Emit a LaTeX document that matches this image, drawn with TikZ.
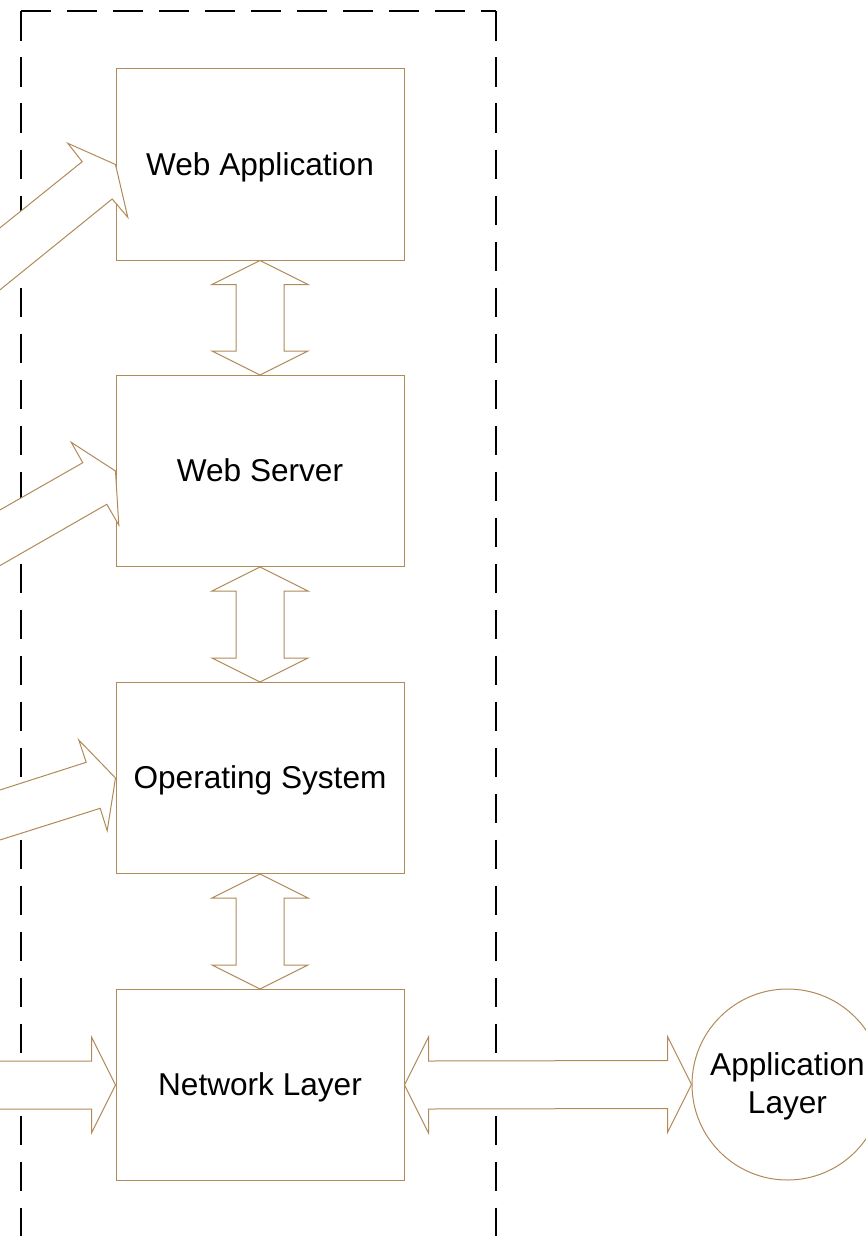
\documentclass[tikz,border=0pt]{standalone}
\usepackage{fontspec}
\setmainfont{Liberation Sans}
\usetikzlibrary{calc}
\definecolor{edge}{RGB}{176,138,88}
\tikzset{
  layerbox/.style={draw=edge, line width=0.5pt, rectangle, minimum width=144pt,
    minimum height=95.5pt, inner sep=0pt, text height=12pt, text depth=1.5pt,
    font=\fontsize{15.8}{19}\selectfont},
  peerlayer/.style={draw=edge, line width=0.5pt, circle, minimum size=95.5pt,
    inner sep=0pt, align=center, text height=30pt, text depth=1.5pt,
    font=\fontsize{15.8}{19}\selectfont},
  blockarrow/.style={draw=edge, fill=white, line width=0.5pt, line join=miter},
  boundary/.style={draw=black, line width=1pt, dash pattern=on 14.75pt off 8.25pt}
}
\begin{document}
\begin{tikzpicture}[x=0.5pt, y=-0.5pt]
  \useasboundingbox (0,0) rectangle (866,1236);
  \clip (0,0) rectangle (866,1236);

  % system boundary (dashed)
  \coordinate (tl) at (21,11.5);
  \coordinate (tr) at (496,11.5);
  \draw[boundary] (tl) -- (tr);
  \draw[boundary] (tl) -- (21,1250);
  \draw[boundary] (tr) -- (496,1250);

  % stack of layers
  \node[layerbox] (wa) at (260,164.5) {Web Application};
  \node[layerbox] (ws) at (260,471)   {Web Server};
  \node[layerbox] (os) at (260,778)   {Operating System};
  \node[layerbox] (nl) at (260,1085)  {Network Layer};
  \node[peerlayer] (al) at (787.5,1084.5) {Application\\Layer};

  % two-way block arrows between stacked layers
  \foreach \a/\b in {wa/ws, ws/os, os/nl}{
    \draw[blockarrow] (\a.south) -- ++(48,24) -- ++(-24,0)
      -- ($(\b.north)+(24,-24)$) -- ++(24,0) -- (\b.north)
      -- ++(-48,-24) -- ++(24,0)
      -- ($(\a.south)+(-24,24)$) -- ++(-24,0) -- cycle;
  }

  % two-way block arrow to the peer layer
  \draw[blockarrow] (nl.east) -- ++(24,-48) -- ++(0,24)
    -- ($(al.west)+(-24,-24)$) -- ++(0,-24) -- (al.west)
    -- ++(-24,48) -- ++(0,-24)
    -- ($(nl.east)+(24,24)$) -- ++(0,24) -- cycle;

  % incoming block arrows from the left
  \draw[blockarrow] (wa.west) -- ++(-47.7,-21.2) -- ++(14.4,18.4)
    -- (-60,276.1) -- (-60,338.4) -- ($(wa.west)+(-3.3,34.5)$)
    -- ($(wa.west)+(12.3,52.8)$) -- cycle;
  \draw[blockarrow] (ws.west) -- ++(-44.3,-28.7) -- ++(11.6,20.4)
    -- (-60,544.1) -- (-60,600) -- ($(ws.west)+(-8.7,33.3)$)
    -- ($(ws.west)+(3.3,54)$) -- cycle;
  \draw[blockarrow] (os.west) -- ++(-36.7,-38) -- ++(7.4,22.3)
    -- (-60,809.2) -- (-60,858.9) -- ($(os.west)+(-15.3,30.3)$)
    -- ($(os.west)+(-8.3,52.7)$) -- cycle;
  \draw[blockarrow] (nl.west) -- ++(-24,-48) -- ++(0,24)
    -- (-60,1061) -- (-60,1109) -- ($(nl.west)+(-24,24)$)
    -- ($(nl.west)+(-24,48)$) -- cycle;
\end{tikzpicture}
\end{document}
